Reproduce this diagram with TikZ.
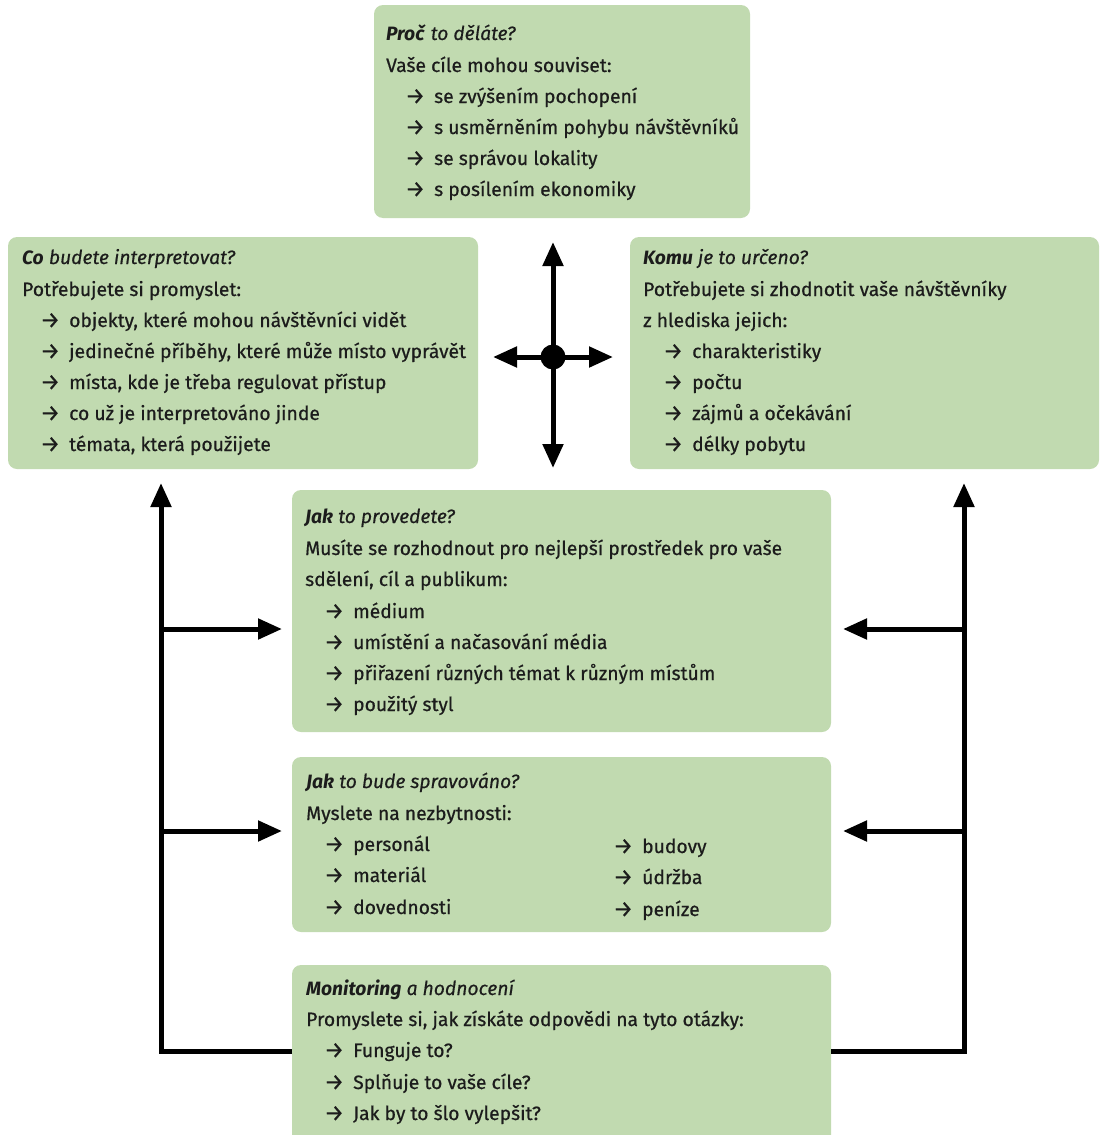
\documentclass[tikz,border=0pt]{standalone}
\usepackage{fontspec}
\usepackage{graphicx}
\setmainfont{Fira Sans}[UprightFeatures={FakeBold=0.6},ItalicFeatures={FakeBold=0.4}]
\newfontfamily\arrowfont{Fira Sans}[FakeBold=0.3]
\usetikzlibrary{arrows.meta}
\definecolor{boxg}{RGB}{193,218,176}
\definecolor{ink}{RGB}{28,28,28}
\tikzset{
  box/.style={fill=boxg, rounded corners=9pt, draw=none, inner sep=0pt, outer sep=0pt, anchor=north west},
  txt/.style={anchor=base west, inner sep=0pt, text=ink, font=\fontsize{19.3}{23}\selectfont},
  conn/.style={line width=5pt, draw=black},
  tipped/.style={conn, -{Triangle[length=24pt,width=20pt]}},
}
\newcommand\arr{\makebox[29pt][l]{\raisebox{-0.9pt}{\scalebox{1.15}[1.2]{\arrowfont →}}}}
\newcommand\hd[2]{\textbf{\textit{#1}} \textit{#2}}
\begin{document}
\begin{tikzpicture}[x=1pt,y=-1pt]
\useasboundingbox (0,0) rectangle (1101,1135);
% boxes
\node[box, minimum width=376pt, minimum height=213pt] (proc) at (374,5) {};
\node[box, minimum width=470pt, minimum height=232pt] (co) at (8,237) {};
\node[box, minimum width=469pt, minimum height=232pt] (komu) at (630,237) {};
\node[box, minimum width=539pt, minimum height=242pt] (jak) at (292,490) {};
\node[box, minimum width=539pt, minimum height=175pt] (spr) at (292,757) {};
\node[box, minimum width=539pt, minimum height=185pt] (mon) at (292,965) {};
% top box text
\node[txt] (p0) at (386,40) {\hd{Proč}{to děláte?}};
\node[txt] (p1) at (386,72) {Vaše cíle mohou souviset:};
\node[txt] (p2) at (405,103) {\arr se zvýšením pochopení};
\node[txt] (p3) at (405,134) {\arr s usměrněním pohybu návštěvníků};
\node[txt] (p4) at (405,165) {\arr se správou lokality};
\node[txt] (p5) at (405,196) {\arr s posílením ekonomiky};
% left box text
\node[txt] (c0) at (22,264) {\hd{Co}{budete interpretovat?}};
\node[txt] (c1) at (22,296) {Potřebujete si promyslet:};
\node[txt] (c2) at (40,327) {\arr objekty, které mohou návštěvníci vidět};
\node[txt] (c3) at (40,358) {\arr jedinečné příběhy, které může místo vyprávět};
\node[txt] (c4) at (40,389) {\arr místa, kde je třeba regulovat přístup};
\node[txt] (c5) at (40,420) {\arr co už je interpretováno jinde};
\node[txt] (c6) at (40,451) {\arr témata, která použijete};
% right box text
\node[txt] (k0) at (643,264) {\hd{Komu}{je to určeno?}};
\node[txt] (k1) at (643,296) {Potřebujete si zhodnotit vaše návštěvníky};
\node[txt] (k2) at (643,327) {z hlediska jejich:};
\node[txt] (k3) at (663,358) {\arr charakteristiky};
\node[txt] (k4) at (663,389) {\arr počtu};
\node[txt] (k5) at (663,420) {\arr zájmů a očekávání};
\node[txt] (k6) at (663,451) {\arr délky pobytu};
% jak box text
\node[txt] (j0) at (305,523) {\hd{Jak}{to provedete?}};
\node[txt] (j1) at (305,555) {Musíte se rozhodnout pro nejlepší prostředek pro vaše};
\node[txt] (j2) at (305,586) {sdělení, cíl a publikum:};
\node[txt] (j3) at (324,618) {\arr médium};
\node[txt] (j4) at (324,649) {\arr umístění a načasování média};
\node[txt] (j5) at (324,680) {\arr přiřazení různých témat k různým místům};
\node[txt] (j6) at (324,711) {\arr použitý styl};
% spravovano text
\node[txt] (s0) at (306,788) {\hd{Jak}{to bude spravováno?}};
\node[txt] (s1) at (306,820) {Myslete na nezbytnosti:};
\node[txt] (s2) at (324,851) {\arr personál};
\node[txt] (s3) at (324,882) {\arr materiál};
\node[txt] (s4) at (324,914) {\arr dovednosti};
\node[txt] (s5) at (613,853) {\arr budovy};
\node[txt] (s6) at (613,884) {\arr údržba};
\node[txt] (s7) at (613,916) {\arr peníze};
% monitoring text
\node[txt] (m0) at (306,995) {\hd{Monitoring}{a hodnocení}};
\node[txt] (m1) at (306,1026) {Promyslete si, jak získáte odpovědi na tyto otázky:};
\node[txt] (m2) at (324,1057) {\arr Funguje to?};
\node[txt] (m3) at (324,1089) {\arr Splňuje to vaše cíle?};
\node[txt] (m4) at (324,1120) {\arr Jak by to šlo vylepšit?};
% central cross
\node[circle, fill=black, minimum size=25pt, inner sep=0pt] (hub) at (553,357) {};
\coordinate (hubN) at (553,242);
\coordinate (hubS) at (553,468);
\coordinate (hubW) at (493,357);
\coordinate (hubE) at (613,357);
\draw[tipped] (hub.center) -- (hubN);
\draw[tipped] (hub.center) -- (hubS);
\draw[tipped] (hub.center) -- (hubW);
\draw[tipped] (hub.center) -- (hubE);
% left feedback loop
\coordinate (lBot) at (292,1051);
\coordinate (lTop) at (161,483);
\coordinate (lA) at (161,629);
\coordinate (lB) at (161,831);
\coordinate (lAt) at (282,629);
\coordinate (lBt) at (282,831);
\draw[tipped] (161,1053.5) -- (lTop);
\draw[conn] (lBot) -- (158.5,1051);
\draw[tipped] (lA) -- (lAt);
\draw[tipped] (lB) -- (lBt);
% right feedback loop
\coordinate (rBot) at (831,1051);
\coordinate (rTop) at (964,483);
\coordinate (rA) at (964,629);
\coordinate (rB) at (964,831);
\coordinate (rAt) at (843,629);
\coordinate (rBt) at (843,831);
\draw[tipped] (964,1053.5) -- (rTop);
\draw[conn] (rBot) -- (966.5,1051);
\draw[tipped] (rA) -- (rAt);
\draw[tipped] (rB) -- (rBt);
\end{tikzpicture}
\end{document}
